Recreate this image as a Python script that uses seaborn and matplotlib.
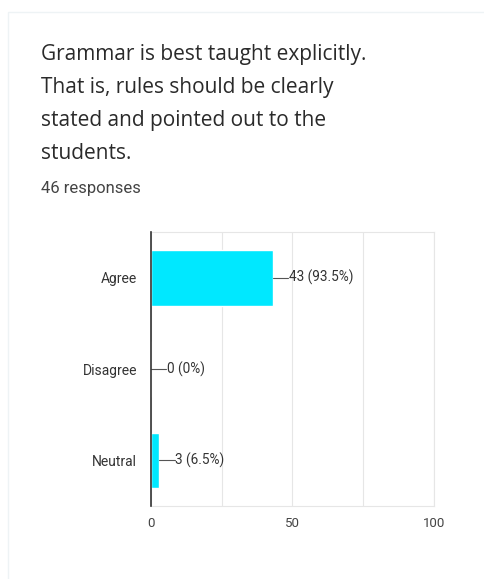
import pandas as pd
import numpy as np
import matplotlib
matplotlib.use("Agg")
import matplotlib.pyplot as plt
import seaborn as sns

# Survey responses
answers = ["Agree", "Disagree", "Neutral"]
counts = [43, 0, 3]
percents = ["93.5%", "0%", "6.5%"]
x_ticks = [0, 50, 100]

title = ("Grammar is best taught explicitly.\nThat is, rules should be clearly\n"
         "stated and pointed out to the\nstudents.")
n_responses = "46 responses"

df = pd.DataFrame({"answer": answers, "count": counts})

sns.set_style("white")
plt.rcParams["font.family"] = ["Roboto", "DejaVu Sans"]

fig = plt.figure(figsize=(4.85, 5.79), dpi=100)
ax = fig.add_axes([0.311, 0.126, 0.584, 0.473])

sns.barplot(data=df, y="answer", x="count", orient="h", color="#00e8ff",
            saturation=1, width=0.61, ax=ax)

ax.set_xlim(0, 100)
ax.set_ylim(2.5, -0.5)
ax.set_xticks(x_ticks)
ax.set_xticks([25, 75], minor=True)
ax.grid(axis="x", which="both", color="#e6e6e6", linewidth=0.8)
ax.set_axisbelow(True)
ax.set_xlabel("")
ax.set_ylabel("")
ax.tick_params(axis="y", length=0, labelsize=10, colors="#333333", pad=10)
ax.tick_params(axis="x", which="both", length=0, labelsize=9.5, colors="#444444", pad=8)

for s in ["top", "right", "bottom"]:
    ax.spines[s].set_color("#e6e6e6")
    ax.spines[s].set_linewidth(0.8)
ax.spines["left"].set_color("#333333")
ax.spines["left"].set_linewidth(1.2)
ax.spines["left"].set_zorder(5)

# value labels with a short leader line
for i, (c, p) in enumerate(zip(counts, percents)):
    ax.plot([c, c + 5.5], [i, i], color="#555555", linewidth=0.8, clip_on=False)
    ax.text(c + 5.7, i, f"{c} ({p})", va="center", ha="left",
            fontsize=9.8, color="#333333")

fig.text(0.085, 0.924, title, ha="left", va="top", fontsize=15,
         color="#2a2a2a", linespacing=1.74, family=["Open Sans", "DejaVu Sans"])
fig.text(0.085, 0.675, n_responses, ha="left", va="center", fontsize=12,
         color="#444444")

# card outline
card = plt.Rectangle((0.017, -0.02), 1.0, 1.0, transform=fig.transFigure,
                     fill=False, edgecolor="#eef3f5", linewidth=1.0)
fig.add_artist(card)

fig.savefig("out.png", dpi=100)
